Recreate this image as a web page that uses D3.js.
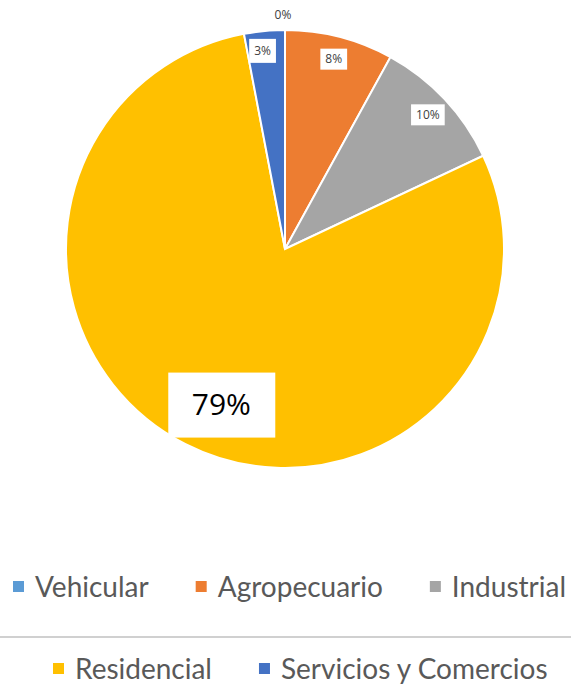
<!DOCTYPE html>
<html>
<head>
<meta charset="utf-8">
<script src="https://cdn.jsdelivr.net/npm/d3@7"></script>
<style>
  body { margin: 0; background: #fff; }
  svg { display: block; }
  .small-label { font-family: "Open Sans", sans-serif; font-size: 12px; fill: #404040; }
  .big-label { font-family: "Open Sans", sans-serif; font-size: 30px; fill: #000; }
  .legend-text { font-family: Lato, sans-serif; font-size: 28px; fill: #595959; }
</style>
</head>
<body>
<div id="chart"></div>
<script>
// data
const categories = ["Vehicular", "Agropecuario", "Industrial", "Residencial", "Servicios y Comercios"];
const values = [0, 8, 10, 79, 3];
const sliceColors = ["#5B9BD5", "#ED7D31", "#A5A5A5", "#FFC000", "#4472C4"];
const legendRows = [[0, 1, 2], [3, 4]];

const width = 571, height = 687;
const cx = 285, cy = 249, radius = 219;

const svg = d3.select("#chart").append("svg")
    .attr("width", width)
    .attr("height", height);

const data = categories.map((c, i) => ({ name: c, value: values[i], color: sliceColors[i] }));

const pie = d3.pie().sort(null).value(d => d.value);
const arcs = pie(data);

const arc = d3.arc().innerRadius(0).outerRadius(radius);

const g = svg.append("g").attr("transform", `translate(${cx},${cy})`);

// slices
g.selectAll("path.slice")
    .data(arcs)
    .enter()
    .append("path")
    .attr("class", "slice")
    .attr("d", arc)
    .attr("fill", d => d.data.color)
    .attr("stroke", "#fff")
    .attr("stroke-width", 2);

// labels
const labelArc = d3.arc().innerRadius(196).outerRadius(196);
const outsideArc = d3.arc().innerRadius(234).outerRadius(234);
const bigArc = d3.arc().innerRadius(169).outerRadius(169);

arcs.forEach(d => {
    const txt = Math.round(d.data.value) + "%";
    if (d.data.value === 0) {
        const [x, y] = outsideArc.centroid(d);
        g.append("text")
            .attr("class", "small-label")
            .attr("x", x - 2).attr("y", y)
            .attr("text-anchor", "middle")
            .attr("dy", "0.35em")
            .text(txt);
    } else if (d.data.value > 50) {
        let [x, y] = bigArc.centroid(d);
        x += 13; y += 5;
        g.append("rect")
            .attr("x", x - 53).attr("y", y - 32)
            .attr("width", 107).attr("height", 65)
            .attr("fill", "#fff");
        g.append("text")
            .attr("class", "big-label")
            .attr("x", x).attr("y", y)
            .attr("text-anchor", "middle")
            .attr("dy", "0.35em")
            .text(txt);
    } else {
        let [x, y] = labelArc.centroid(d);
        if (d.data.value < 5) { x -= 4; y -= 3; }
        const t = g.append("text")
            .attr("class", "small-label")
            .attr("x", x).attr("y", y)
            .attr("text-anchor", "middle")
            .attr("dy", "0.35em")
            .text(txt);
        const w = t.node().getComputedTextLength() + 10;
        const h = d.data.value < 5 ? 24 : 21;
        g.append("rect")
            .attr("x", x - w / 2).attr("y", y - h / 2)
            .attr("width", w).attr("height", h)
            .attr("fill", "#fff");
        t.raise();
    }
});

// legend
const rowY = [587, 669];
const rowStart = [13, 53];
const gap = 47;

svg.append("line")
    .attr("x1", 0).attr("x2", width)
    .attr("y1", 637).attr("y2", 637)
    .attr("stroke", "#d0d0d0")
    .attr("stroke-width", 2);

legendRows.forEach((row, r) => {
    let x = rowStart[r];
    row.forEach(i => {
        const item = svg.append("g").attr("transform", `translate(${x},${rowY[r]})`);
        item.append("rect")
            .attr("x", 0).attr("y", -6)
            .attr("width", 11).attr("height", 11)
            .attr("fill", sliceColors[i]);
        const t = item.append("text")
            .attr("class", "legend-text")
            .attr("x", 22)
            .attr("dy", "0.35em")
            .text(categories[i]);
        x += 22 + t.node().getComputedTextLength() + gap;
    });
});
</script>
</body>
</html>
